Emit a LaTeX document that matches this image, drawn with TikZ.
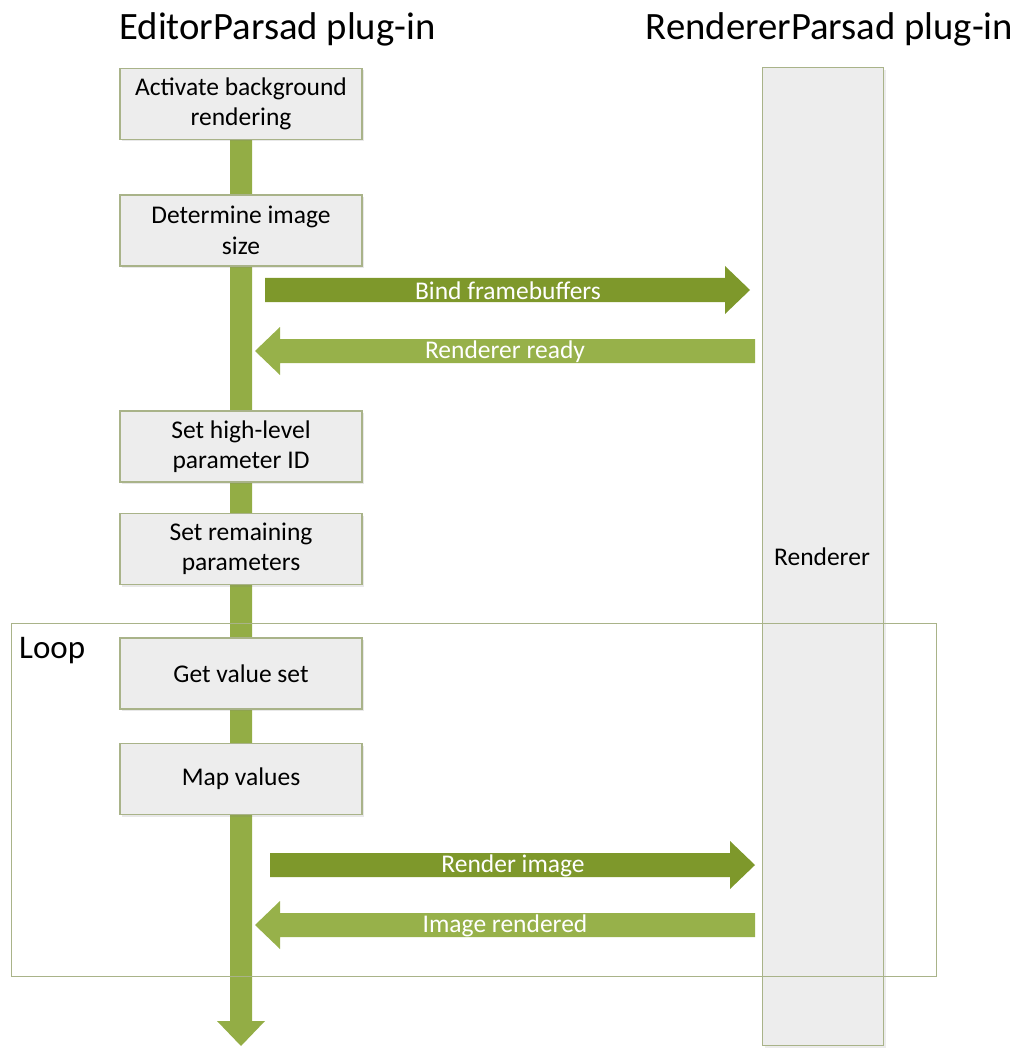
\documentclass[tikz,border=0pt]{standalone}
\usepackage{fontspec}
\setmainfont{Carlito}
\usetikzlibrary{shadows}
\definecolor{boxfill}{HTML}{EDEDED}
\definecolor{boxline}{HTML}{A9B389}
\definecolor{darkolive}{HTML}{7E982B}
\definecolor{lightolive}{HTML}{97B14A}
\definecolor{lifegreen}{HTML}{93AD45}
\tikzset{
  stepbox/.style={draw=boxline, line width=1.4pt, fill=boxfill,
    minimum width=242pt, minimum height=71pt, align=center,
    font=\fontsize{25.5}{30.5}\selectfont,
    drop shadow={opacity=0.18, shadow xshift=2pt, shadow yshift=-2pt}},
  msglabel/.style={text=white, font=\fontsize{25.5}{30}\selectfont},
  title/.style={font=\fontsize{38.7}{44}\selectfont, anchor=base},
}
\begin{document}
\begin{tikzpicture}[x=1pt, y=-1pt]
\useasboundingbox (0,0) rectangle (1021,1048);

% titles
\node[title] (edtitle) at (277.5,40) {EditorParsad plug-in};
\node[title] (rdtitle) at (829.5,40) {RendererParsad plug-in};

% renderer lifeline box
\node[draw=boxline, line width=1.4pt, fill=boxfill, minimum width=121pt,
      minimum height=978pt, anchor=north west, inner sep=0pt,
      drop shadow={opacity=0.15, shadow xshift=2pt, shadow yshift=-2pt}]
      (renderer) at (762,67) {};
\node[font=\fontsize{25.5}{30}\selectfont] (rlabel) at (822,557) {Renderer};

% editor lifeline: thick arrow running down the page
\fill[lifegreen] (230,139) -- (252,139) -- (252,1021) -- (265,1021)
   -- (241,1046) -- (217,1021) -- (230,1021) -- cycle;

% step boxes
\node[stepbox] (s1) at (241,104) {Activate background\\rendering};
\node[stepbox] (s2) at (241,230.5) {Determine image\\size};
\node[stepbox] (s3) at (241,446.5) {Set high-level\\parameter ID};
\node[stepbox] (s4) at (241,549) {Set remaining\\parameters};
\node[stepbox] (s5) at (241,673.5) {Get value set};
\node[stepbox] (s6) at (241,779) {Map values};

% loop frame
\node[draw=boxline, line width=1.4pt, minimum width=925pt, minimum height=353pt,
      anchor=north west, inner sep=0pt] (loop) at (11,623) {};
\node[anchor=base west, font=\fontsize{33}{38}\selectfont, inner sep=0pt]
      (looplabel) at (19,658) {Loop};

% messages
\fill[darkolive] (265,278) -- (725,278) -- (725,266) -- (750,290)
   -- (725,314) -- (725,302) -- (265,302) -- cycle;
\node[msglabel] (m1) at (508,291) {Bind framebuffers};

\fill[lightolive] (755,339) -- (280,339) -- (280,327) -- (255,351)
   -- (280,375) -- (280,363) -- (755,363) -- cycle;
\node[msglabel] (m2) at (505,352) {Renderer ready};

\fill[darkolive] (270,853) -- (730,853) -- (730,841) -- (755,865)
   -- (730,889) -- (730,877) -- (270,877) -- cycle;
\node[msglabel] (m3) at (513,866) {Render image};

\fill[lightolive] (755,913) -- (280,913) -- (280,901) -- (255,925)
   -- (280,949) -- (280,937) -- (755,937) -- cycle;
\node[msglabel] (m4) at (505,926) {Image rendered};
\end{tikzpicture}
\end{document}
